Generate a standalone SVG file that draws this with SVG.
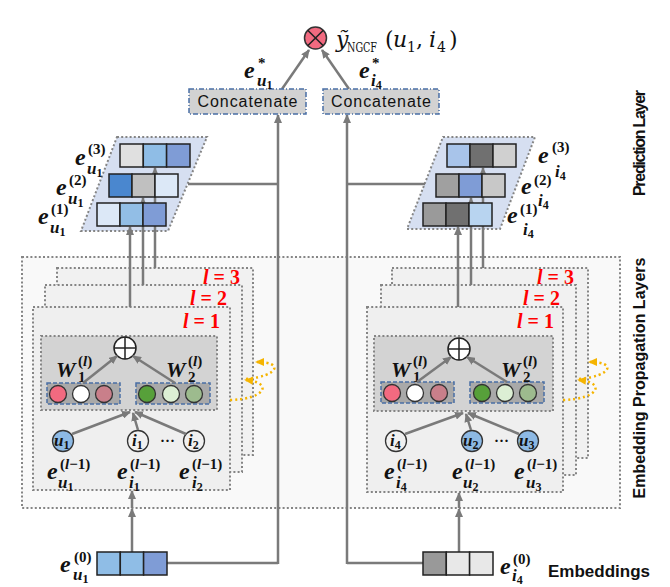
<svg xmlns="http://www.w3.org/2000/svg" width="670" height="587" viewBox="0 0 670 587">
<defs>
<marker id="ah" markerUnits="userSpaceOnUse" markerWidth="9" markerHeight="8" refX="8" refY="4" orient="auto"><path d="M0,0 L9,4 L0,8 z" fill="#7a7a7a"/></marker>
<marker id="ay" markerUnits="userSpaceOnUse" markerWidth="9" markerHeight="8" refX="7" refY="4" orient="auto"><path d="M0,0 L9,4 L0,8 z" fill="#f5b400"/></marker>
</defs>
<style>
.dot{stroke:#858585;stroke-width:2;stroke-dasharray:2 2.2;}
.ln{stroke:#7a7a7a;stroke-width:2.5;fill:none;}
.ar{stroke:#7a7a7a;stroke-width:2.5;fill:none;marker-end:url(#ah);}
.yl{stroke:#f5b400;stroke-width:2.5;stroke-dasharray:2 3;fill:none;marker-end:url(#ay);}
.cell{stroke:#222;stroke-width:1.5;}
.cc{stroke:#333;stroke-width:1.3;}
.sb{fill:#a9a9a9;stroke:#4a6fa5;stroke-width:1.5;stroke-dasharray:4 2;}
.cat{fill:#d2d2d2;stroke:#4a6fa5;stroke-width:1.5;stroke-dasharray:5 2 1 2;}
.e{font-family:'Liberation Serif',serif;font-style:italic;font-weight:bold;font-size:24px;fill:#111;}
.w{font-family:'Liberation Serif',serif;font-style:italic;font-weight:bold;font-size:22px;fill:#111;}
.s{font-family:'Liberation Serif',serif;font-weight:bold;font-size:15px;fill:#111;}
.si{font-family:'Liberation Serif',serif;font-style:italic;font-weight:bold;font-size:17px;fill:#111;}
.ss{font-family:'Liberation Serif',serif;font-style:normal;font-weight:bold;font-size:12px;}
.red{font-family:'Liberation Serif',serif;font-weight:bold;font-size:20px;fill:#ff0000;}
.sans{font-family:'Liberation Sans',Arial,sans-serif;fill:#111;}
</style>
<rect width="670" height="587" fill="#ffffff"/>

<g id="prop-outer"><rect x="22" y="257" width="598" height="251" fill="#f9f9f9" class="dot"/></g>

<g id="left-l3"><rect x="57" y="268" width="196" height="187" fill="#f1f1f1" class="dot"/></g>
<g id="left-l2"><rect x="45" y="285" width="197" height="187" fill="#f1f1f1" class="dot"/></g>
<g id="left-l1"><rect x="33" y="307" width="197" height="183" fill="#efefef" class="dot"/></g>
<g id="right-l3"><rect x="392" y="268" width="196" height="190" fill="#f1f1f1" class="dot"/></g>
<g id="right-l2"><rect x="381" y="285" width="195" height="190" fill="#f1f1f1" class="dot"/></g>
<g id="right-l1"><rect x="367" y="307" width="196" height="185" fill="#efefef" class="dot"/></g>

<g id="layer-labels">
<text class="red" x="203" y="284"><tspan font-style="italic">l</tspan> = 3</text>
<text class="red" x="190" y="305"><tspan font-style="italic">l</tspan> = 2</text>
<text class="red" x="183" y="328"><tspan font-style="italic">l</tspan> = 1</text>
<text class="red" x="537" y="284"><tspan font-style="italic">l</tspan> = 3</text>
<text class="red" x="523" y="305"><tspan font-style="italic">l</tspan> = 2</text>
<text class="red" x="517" y="328"><tspan font-style="italic">l</tspan> = 1</text>
</g>

<g id="left-wbox">
<rect x="41" y="336" width="176" height="74" fill="#d3d3d3" class="dot"/>
<rect x="47" y="383" width="73" height="21" class="sb"/>
<rect x="136" y="383" width="74" height="21" class="sb"/>
<circle cx="58" cy="394" r="8.5" fill="#f26a80" class="cc"/>
<circle cx="81" cy="394" r="8.5" fill="#ffffff" class="cc"/>
<circle cx="104" cy="394" r="8.5" fill="#c97f8a" class="cc"/>
<circle cx="147" cy="394" r="8.5" fill="#57a03a" class="cc"/>
<circle cx="171" cy="394" r="8.5" fill="#dcefd4" class="cc"/>
<circle cx="194" cy="394" r="8.5" fill="#9dbb8e" class="cc"/>
<circle cx="125" cy="348" r="11" fill="#ffffff" stroke="#222" stroke-width="1.5"/>
<path d="M114,348 H136 M125,337 V359" stroke="#222" stroke-width="1.5"/>
<text class="w" x="56" y="377">W</text><text class="s" x="78" y="366">(<tspan font-style="italic">l</tspan>)</text><text class="s" x="78" y="382">1</text>
<text class="w" x="166" y="377">W</text><text class="s" x="188" y="366">(<tspan font-style="italic">l</tspan>)</text><text class="s" x="188" y="382">2</text>
</g>

<g id="right-wbox">
<rect x="374" y="336" width="179" height="75" fill="#d3d3d3" class="dot"/>
<rect x="381" y="382" width="73" height="21" class="sb"/>
<rect x="470" y="382" width="74" height="21" class="sb"/>
<circle cx="392" cy="393" r="8.5" fill="#f26a80" class="cc"/>
<circle cx="415" cy="393" r="8.5" fill="#ffffff" class="cc"/>
<circle cx="439" cy="393" r="8.5" fill="#c97f8a" class="cc"/>
<circle cx="482" cy="393" r="8.5" fill="#57a03a" class="cc"/>
<circle cx="505" cy="393" r="8.5" fill="#dcefd4" class="cc"/>
<circle cx="528" cy="393" r="8.5" fill="#9dbb8e" class="cc"/>
<circle cx="459" cy="349" r="11" fill="#ffffff" stroke="#222" stroke-width="1.5"/>
<path d="M448,349 H470 M459,338 V360" stroke="#222" stroke-width="1.5"/>
<text class="w" x="391" y="377">W</text><text class="s" x="413" y="366">(<tspan font-style="italic">l</tspan>)</text><text class="s" x="413" y="382">1</text>
<text class="w" x="501" y="377">W</text><text class="s" x="523" y="366">(<tspan font-style="italic">l</tspan>)</text><text class="s" x="523" y="382">2</text>
</g>

<g id="node-u1"><circle cx="63" cy="441" r="10.5" fill="#8db9e4" class="cc"/><text class="si" x="54" y="446">u<tspan class="ss" dy="3">1</tspan></text></g>
<g id="node-i1"><circle cx="138" cy="441" r="10.5" fill="#f0f0f0" class="cc"/><text class="si" x="132" y="446">i<tspan class="ss" dy="3">1</tspan></text></g>
<g id="node-i2"><circle cx="194" cy="441" r="10.5" fill="#f0f0f0" class="cc"/><text class="si" x="188" y="446">i<tspan class="ss" dy="3">2</tspan></text></g>
<text class="s" x="160" y="446">···</text>
<g id="node-i4"><circle cx="396" cy="441" r="10.5" fill="#f0f0f0" class="cc"/><text class="si" x="390" y="446">i<tspan class="ss" dy="3">4</tspan></text></g>
<g id="node-u2"><circle cx="472" cy="441" r="10.5" fill="#8db9e4" class="cc"/><text class="si" x="463" y="446">u<tspan class="ss" dy="3">2</tspan></text></g>
<g id="node-u3"><circle cx="528" cy="441" r="10.5" fill="#8db9e4" class="cc"/><text class="si" x="519" y="446">u<tspan class="ss" dy="3">3</tspan></text></g>
<text class="s" x="494" y="446">···</text>

<g id="node-labels">
<text class="e" x="47" y="479">e</text><text class="s" x="60" y="469">(<tspan font-style="italic">l</tspan>−1)</text><text class="si" x="58" y="488">u<tspan class="ss" dy="3">1</tspan></text>
<text class="e" x="117" y="479">e</text><text class="s" x="130" y="469">(<tspan font-style="italic">l</tspan>−1)</text><text class="si" x="129" y="488">i<tspan class="ss" dy="3">1</tspan></text>
<text class="e" x="179" y="479">e</text><text class="s" x="192" y="469">(<tspan font-style="italic">l</tspan>−1)</text><text class="si" x="192" y="488">i<tspan class="ss" dy="3">2</tspan></text>
<text class="e" x="384" y="479">e</text><text class="s" x="397" y="469">(<tspan font-style="italic">l</tspan>−1)</text><text class="si" x="396" y="488">i<tspan class="ss" dy="3">4</tspan></text>
<text class="e" x="452" y="479">e</text><text class="s" x="465" y="469">(<tspan font-style="italic">l</tspan>−1)</text><text class="si" x="463" y="488">u<tspan class="ss" dy="3">2</tspan></text>
<text class="e" x="514" y="479">e</text><text class="s" x="527" y="469">(<tspan font-style="italic">l</tspan>−1)</text><text class="si" x="526" y="488">u<tspan class="ss" dy="3">3</tspan></text>
</g>

<g id="recur">
<path class="yl" d="M230,400 C265,399 274,383 246,380"/>
<path class="yl" d="M246,379 C279,376 284,362 257,362"/>
<path class="yl" d="M563,400 C598,399 607,383 579,380"/>
<path class="yl" d="M579,379 C612,376 617,362 590,362"/>
</g>

<g id="left-pred">
<polygon points="117,137 207,137 168,231 81,231" fill="#d6dff1" class="dot"/>
</g>
<g id="right-pred">
<polygon points="443,137 535,137 500,229 407,229" fill="#d6dff1" class="dot"/>
</g>

<g id="connectors">
<path class="ar" d="M132,552 V509"/>
<path class="ar" d="M132,508 V491"/>
<path class="ar" d="M459,552 V509"/>
<path class="ar" d="M459,508 V493"/>
<path class="ar" d="M72,434 L130,412"/>
<path class="ar" d="M138,430 L133,413"/>
<path class="ar" d="M186,434 L135,412"/>
<path class="ar" d="M405,434 L463,413"/>
<path class="ar" d="M471,430 L466,414"/>
<path class="ar" d="M519,434 L468,413"/>
<path class="ar" d="M83,383 L117,356"/>
<path class="ar" d="M175,383 L133,356"/>
<path class="ar" d="M417,382 L451,357"/>
<path class="ar" d="M507,382 L467,357"/>
<path class="ar" d="M130,307 V227"/>
<path class="ar" d="M143,285 V198"/>
<path class="ar" d="M155,268 V168"/>
<path class="ar" d="M458,307 V227"/>
<path class="ar" d="M471,285 V198"/>
<path class="ar" d="M483,268 V168"/>
<path class="ln" d="M167,563 H278"/>
<path class="ar" d="M278,564 V115"/>
<path class="ln" d="M188,184 H278"/>
<path class="ln" d="M423,563 H347"/>
<path class="ar" d="M347,564 V115"/>
<path class="ln" d="M425,184 H347"/>
<path class="ar" d="M282,89 L309,50"/>
<path class="ar" d="M349,89 L322,50"/>
</g>

<g id="left-rows">
<rect x="120" y="144" width="23.3" height="23" fill="#e0e0e0" class="cell"/><rect x="143.3" y="144" width="23.3" height="23" fill="#8fbde6" class="cell"/><rect x="166.6" y="144" width="23.4" height="23" fill="#7f9cd6" class="cell"/>
<rect x="109" y="174" width="23" height="23" fill="#4a87cf" class="cell"/><rect x="132" y="174" width="23" height="23" fill="#c0c0c0" class="cell"/><rect x="155" y="174" width="23" height="23" fill="#dce8f7" class="cell"/>
<rect x="97" y="203" width="23" height="23" fill="#dce8f7" class="cell"/><rect x="120" y="203" width="23" height="23" fill="#92bee6" class="cell"/><rect x="143" y="203" width="23" height="23" fill="#7f9cd6" class="cell"/>
</g>
<g id="right-rows">
<rect x="447" y="144" width="23" height="23" fill="#a8c4ea" class="cell"/><rect x="470" y="144" width="23" height="23" fill="#707070" class="cell"/><rect x="493" y="144" width="23" height="23" fill="#d0d0d0" class="cell"/>
<rect x="436" y="174" width="23" height="23" fill="#a0a0a0" class="cell"/><rect x="459" y="174" width="23" height="23" fill="#7f9cd6" class="cell"/><rect x="482" y="174" width="23" height="23" fill="#c8c8c8" class="cell"/>
<rect x="423" y="203" width="23" height="23" fill="#9a9a9a" class="cell"/><rect x="446" y="203" width="23" height="23" fill="#707070" class="cell"/><rect x="469" y="203" width="23" height="23" fill="#b8d4f0" class="cell"/>
</g>

<g id="pred-labels">
<text class="e" x="75" y="165">e</text><text class="s" x="88" y="154">(3)</text><text class="si" x="87" y="174">u<tspan class="ss" dy="3">1</tspan></text>
<text class="e" x="56" y="195">e</text><text class="s" x="69" y="185">(2)</text><text class="si" x="68" y="204">u<tspan class="ss" dy="3">1</tspan></text>
<text class="e" x="38" y="224">e</text><text class="s" x="51" y="214">(1)</text><text class="si" x="50" y="233">u<tspan class="ss" dy="3">1</tspan></text>
<text class="e" x="538" y="163">e</text><text class="s" x="552" y="152">(3)</text><text class="si" x="555" y="177">i<tspan class="ss" dy="3">4</tspan></text>
<text class="e" x="521" y="194">e</text><text class="s" x="534" y="185">(2)</text><text class="si" x="538" y="206">i<tspan class="ss" dy="3">4</tspan></text>
<text class="e" x="507" y="223">e</text><text class="s" x="520" y="214">(1)</text><text class="si" x="523" y="235">i<tspan class="ss" dy="3">4</tspan></text>
</g>

<g id="emb-u1">
<rect x="97" y="552" width="23.3" height="23" fill="#8fbde6" class="cell"/><rect x="120.3" y="552" width="23.3" height="23" fill="#8fbde6" class="cell"/><rect x="143.6" y="552" width="23.4" height="23" fill="#7f9cd6" class="cell"/>
<text class="e" x="60" y="572">e</text><text class="s" x="74" y="562">(0)</text><text class="si" x="73" y="580">u<tspan class="ss" dy="3">1</tspan></text>
</g>
<g id="emb-i4">
<rect x="423" y="552" width="23.3" height="23" fill="#999999" class="cell"/><rect x="446.3" y="552" width="23.3" height="23" fill="#e8e8e8" class="cell"/><rect x="469.6" y="552" width="23.4" height="23" fill="#e8e8e8" class="cell"/>
<text class="e" x="500" y="574" font-weight="normal">e</text><text class="s" x="513" y="564" font-weight="normal">(0)</text><text class="si" x="512" y="581" font-weight="normal">i<tspan class="ss" dy="3" font-weight="normal">4</tspan></text>
</g>

<g id="concat-u"><rect x="189" y="89" width="117" height="25" class="cat"/><text class="sans" x="247.5" y="107" font-size="16" text-anchor="middle" textLength="100">Concatenate</text></g>
<g id="concat-i"><rect x="323" y="89" width="116" height="25" class="cat"/><text class="sans" x="381" y="107" font-size="16" text-anchor="middle" textLength="100">Concatenate</text></g>
<g id="star-labels">
<text class="e" x="244" y="78">e</text><text class="s" x="258" y="68">*</text><text class="si" x="257" y="86">u<tspan class="ss" dy="3">1</tspan></text>
<text class="e" x="359" y="78">e</text><text class="s" x="372" y="68">*</text><text class="si" x="371" y="86">i<tspan class="ss" dy="3">4</tspan></text>
</g>

<g id="score">
<circle cx="315.5" cy="38" r="11" fill="#f26a80" stroke="#333" stroke-width="1.5"/>
<path d="M307.7,30.2 L323.3,45.8 M323.3,30.2 L307.7,45.8" stroke="#222" stroke-width="1.6"/>
<g font-family="'DejaVu Serif',serif" fill="#111">
<text x="336" y="47" font-size="22" font-style="italic">ỹ</text>
<text x="347" y="52" font-size="13" textLength="30" lengthAdjust="spacingAndGlyphs">NGCF</text>
<text x="385" y="47" font-size="22">(</text>
<text x="393" y="47" font-size="22" font-style="italic">u</text>
<text x="407" y="52" font-size="14">1</text>
<text x="416" y="47" font-size="22">,</text>
<text x="429" y="47" font-size="22" font-style="italic">i</text>
<text x="437" y="52" font-size="14">4</text>
<text x="449" y="47" font-size="22">)</text>
</g>
</g>

<g id="side-labels" class="sans" font-weight="bold">
<text transform="translate(645,143) rotate(-90)" text-anchor="middle" font-size="16" textLength="106">Prediction Layer</text>
<text transform="translate(645,378) rotate(-90)" text-anchor="middle" font-size="16">Embedding Propagation Layers</text>
<text x="548" y="577" font-size="17">Embeddings</text>
</g>
</svg>
